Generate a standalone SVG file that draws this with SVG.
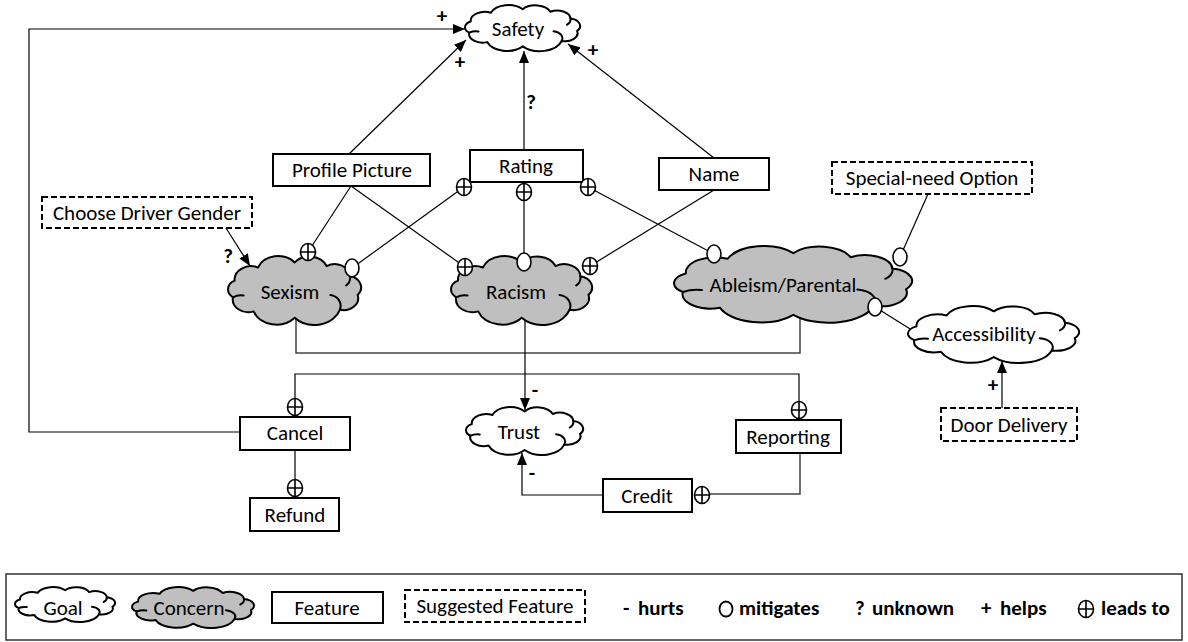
<svg xmlns="http://www.w3.org/2000/svg" width="1188" height="642" viewBox="0 0 1188 642">
<style>
text{font-family:Carlito,Lato,"Liberation Sans",sans-serif;font-size:21px;fill:#000;text-anchor:middle;dominant-baseline:central}
.b{font-weight:bold}
.lg{font-weight:bold;text-anchor:start}
.box{fill:#fff;stroke:#000;stroke-width:2}
.sbox{fill:#fff;stroke:#000;stroke-width:2;stroke-dasharray:6 3}
.ln{fill:none;stroke:#000;stroke-width:1.2}
.lg2{fill:none;stroke:#444;stroke-width:1.5}
.la{fill:none;stroke:#000;stroke-width:1.2;marker-end:url(#ah)}
.cb{stroke:#000;stroke-width:2;vector-effect:non-scaling-stroke;stroke-linejoin:round}
.cc{fill:none;stroke:#000;stroke-width:2;vector-effect:non-scaling-stroke;stroke-linecap:round}
.goal{fill:#fff}
.concern{fill:#bfbfbf}
.mit{fill:#fff;stroke:#000;stroke-width:1.6}
</style>
<defs>
<marker id="ah" viewBox="0 0 12 10" refX="12" refY="5" markerWidth="12" markerHeight="10" markerUnits="userSpaceOnUse" orient="auto"><path d="M0 0L12 5L0 10z" fill="#000"/></marker>
<g id="cloud">
<path class="cb" d="M4.97 21.46A12.35 11.82 0 0 1 22.58 9.96A16.24 15.55 0 0 1 50.14 5.58A14.07 13.47 0 0 1 74.16 8.76A11.55 11.06 0 0 1 91.77 17.63A10.29 9.85 0 0 1 97.48 33.83A10.98 10.51 0 0 1 84.1 46.75A20.13 19.27 0 0 1 50.14 53.76A18.3 17.52 0 0 1 19.27 48.18A11.66 11.17 0 0 1 3.72 35.91A8.8 8.43 0 0 1 4.97 21.46Z"/>
<path class="cc" d="M3.72 35.91q4 -2.5 8 -1.5M84.1 46.75C86 41 83 35 77 34M91.77 17.63q0.5 5 -3 8"/>
</g>
<g id="lt"><ellipse rx="7.5" ry="8.5" fill="#fff" stroke="#000" stroke-width="1.6"/><path d="M-7.5 0H7.5M0 -8.5V8.5" stroke="#000" stroke-width="1.6"/></g>
</defs>
<rect width="1188" height="642" fill="#fff"/>

<g id="connectors">
<polyline class="la" points="240,432 29,432 29,29 465,29"/>
<line class="la" x1="349" y1="154" x2="466" y2="40"/>
<line class="la" x1="524" y1="150" x2="524" y2="51"/>
<line class="la" x1="714" y1="158" x2="568" y2="44"/>
<line class="ln" x1="351" y1="186" x2="308" y2="252"/>
<line class="ln" x1="351" y1="186" x2="465" y2="267"/>
<line class="ln" x1="464" y1="187" x2="352" y2="268"/>
<line class="ln" x1="524" y1="192" x2="524" y2="262"/>
<line class="ln" x1="588" y1="187" x2="714" y2="254"/>
<line class="ln" x1="714" y1="190" x2="590" y2="266"/>
<line class="ln" x1="928" y1="194" x2="900" y2="257"/>
<line class="la" x1="226" y1="228" x2="250" y2="266"/>
<line class="ln" x1="875" y1="307" x2="915" y2="332"/>
<polyline class="lg2" points="296,315 296,353 800,353 800,315"/>
<line class="la" x1="525" y1="315" x2="525" y2="410"/>
<polyline class="ln" points="295,407 295,374 799,374 799,410"/>
<line class="ln" x1="295" y1="450" x2="295" y2="488"/>
<polyline class="lg2" points="800,453 800,494 702,494"/>
<polyline class="la" points="603,495 522,495 522,453"/>
<line class="la" x1="1002" y1="408" x2="1002" y2="361"/>
<text class="b" x="442" y="16">+</text>
<text class="b" x="460" y="62">+</text>
<text class="b" x="531" y="102">?</text>
<text class="b" x="593" y="50">+</text>
<text class="b" x="228" y="256">?</text>
<text class="b" x="535" y="390">-</text>
<text class="b" x="532" y="473">-</text>
<text class="b" x="993" y="385">+</text>
</g>

<g id="safety"><use href="#cloud" class="goal" transform="translate(465,5) scale(1.15,0.77)"/><text x="518" y="29">Safety</text></g>
<g id="profile-picture"><rect class="box" x="273" y="154" width="157" height="32"/><text x="352" y="170">Profile Picture</text></g>
<g id="rating"><rect class="box" x="470" y="150" width="113" height="32"/><text x="526" y="166">Rating</text></g>
<g id="name"><rect class="box" x="659" y="158" width="110" height="32"/><text x="714" y="174">Name</text></g>
<g id="special-need-option"><rect class="sbox" x="832" y="162" width="200" height="32"/><text x="932" y="178">Special-need Option</text></g>
<g id="choose-driver-gender"><rect class="sbox" x="42" y="197" width="210" height="31"/><text x="147" y="213">Choose Driver Gender</text></g>
<g id="sexism"><use href="#cloud" class="concern" transform="translate(228,256) scale(1.33,1.15)"/><text x="290" y="292">Sexism</text></g>
<g id="racism"><use href="#cloud" class="concern" transform="translate(451,256) scale(1.41,1.15)"/><text x="516" y="292">Racism</text></g>
<g id="ableism-parental"><use href="#cloud" class="concern" transform="translate(674,246) scale(2.38,1.28)"/><text x="783" y="285">Ableism/Parental</text></g>
<g id="accessibility"><use href="#cloud" class="goal" transform="translate(908,306) scale(1.71,0.95)"/><text x="984" y="334">Accessibility</text></g>
<g id="door-delivery"><rect class="sbox" x="941" y="408" width="136" height="33"/><text x="1009" y="425">Door Delivery</text></g>
<g id="trust"><use href="#cloud" class="goal" transform="translate(466,407) scale(1.17,0.8)"/><text x="519" y="432">Trust</text></g>
<g id="cancel"><rect class="box" x="240" y="417" width="110" height="33"/><text x="295" y="433">Cancel</text></g>
<g id="refund"><rect class="box" x="250" y="498" width="89" height="33"/><text x="295" y="515">Refund</text></g>
<g id="reporting"><rect class="box" x="736" y="420" width="105" height="33"/><text x="788" y="437">Reporting</text></g>
<g id="credit"><rect class="box" x="603" y="479" width="89" height="33"/><text x="647" y="496">Credit</text></g>

<g id="connector-ends">
<use href="#lt" x="464" y="187"/>
<use href="#lt" x="524" y="192"/>
<use href="#lt" x="588" y="187"/>
<use href="#lt" x="308" y="252"/>
<use href="#lt" x="465" y="267"/>
<use href="#lt" x="590" y="266"/>
<use href="#lt" x="295" y="407"/>
<use href="#lt" x="295" y="488"/>
<use href="#lt" x="799" y="410"/>
<use href="#lt" x="702" y="495"/>
<ellipse class="mit" cx="352" cy="268" rx="7" ry="9"/>
<ellipse class="mit" cx="524" cy="262" rx="7" ry="9"/>
<ellipse class="mit" cx="714" cy="254" rx="7" ry="9"/>
<ellipse class="mit" cx="900" cy="257" rx="7" ry="9"/>
<ellipse class="mit" cx="875" cy="307" rx="7" ry="9"/>
</g>

<g id="legend">
<rect x="6" y="574" width="1176" height="66" fill="none" stroke="#333" stroke-width="1.5"/>
<use href="#cloud" class="goal" transform="translate(15,587) scale(1.0,0.583)"/>
<text x="63" y="608">Goal</text>
<use href="#cloud" class="concern" transform="translate(132,587) scale(1.22,0.683)"/>
<text x="189" y="608">Concern</text>
<rect class="box" x="272" y="592" width="111" height="31"/>
<text x="327" y="608">Feature</text>
<rect class="sbox" x="405" y="590" width="180" height="32"/>
<text x="495" y="606">Suggested Feature</text>
<text class="lg" x="623" y="608">-</text>
<text class="lg" x="638" y="608">hurts</text>
<ellipse cx="726" cy="609" rx="6.5" ry="7.5" fill="#fff" stroke="#000" stroke-width="1.8"/>
<text class="lg" x="739" y="608">mitigates</text>
<text class="lg" x="855" y="608">?</text>
<text class="lg" x="872" y="608">unknown</text>
<text class="lg" x="981" y="608">+</text>
<text class="lg" x="1000" y="608">helps</text>
<use href="#lt" x="1086" y="609"/>
<text class="lg" x="1101" y="608">leads to</text>
</g>
</svg>
